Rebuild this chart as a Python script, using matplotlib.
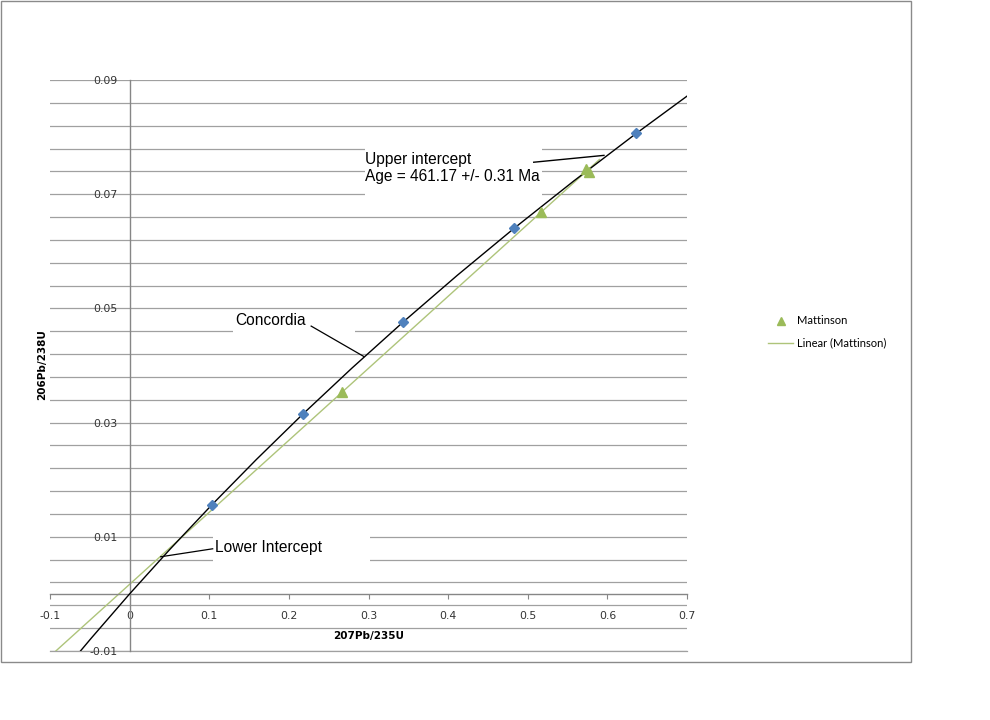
import numpy as np
import matplotlib
matplotlib.use("Agg")
import matplotlib.pyplot as plt
from matplotlib.patches import Rectangle

# ---- data ----
# concordia reference points (ages 100..500 Ma)
conc_pts_x = [0.1035, 0.2177, 0.3437, 0.4828, 0.6363]
conc_pts_y = [0.01563, 0.03151, 0.04764, 0.06402, 0.08065]

# concordia curve (ages -72 .. 540 Ma)
curve_x = [-0.06845, -0.04805, 0.0, 0.05048, 0.10350, 0.15920, 0.21771,
           0.27917, 0.34374, 0.41156, 0.48281, 0.55766, 0.63628, 0.70203]
curve_y = [-0.01111, -0.00773, 0.0, 0.00779, 0.01563, 0.02354, 0.03151,
           0.03954, 0.04764, 0.05580, 0.06402, 0.07230, 0.08065, 0.08738]

# Mattinson data
matt_x = [0.2668, 0.5165, 0.5730, 0.5770]
matt_y = [0.0353, 0.0669, 0.0744, 0.0739]

x_ticks = [-0.1, 0, 0.1, 0.2, 0.3, 0.4, 0.5, 0.6, 0.7]
x_tick_labels = ["-0.1", "0", "0.1", "0.2", "0.3", "0.4", "0.5", "0.6", "0.7"]
y_ticks = [-0.01, 0.01, 0.03, 0.05, 0.07, 0.09]
y_tick_labels = ["-0.01", "0.01", "0.03", "0.05", "0.07", "0.09"]

# ---- figure ----
fig = plt.figure(figsize=(9.9, 7.2), dpi=100)
ax = fig.add_axes([50/990, 1-651/720, 637/990, 571/720])
ax.set_xlim(-0.1, 0.7)
ax.set_ylim(-0.01, 0.09)

# outer chart border
fig.patches.append(Rectangle((1/990, 1-662/720), 910/990, 661/720,
                             transform=fig.transFigure, fill=False,
                             edgecolor="#8a8a8a", linewidth=1))

# grid
grid_c = "#a0a0a0"
ax.set_yticks(y_ticks)
ax.set_yticklabels(y_tick_labels)
ax.set_yticks(np.arange(-0.01, 0.0901, 0.004), minor=True)
ax.yaxis.grid(True, which="both", color=grid_c, linewidth=0.9, zorder=0)
ax.set_axisbelow(True)
ax.axhline(y_ticks[0], color=grid_c, linewidth=0.9, zorder=0.5, clip_on=False)
ax.set_xticks(x_ticks)
ax.set_xticklabels(x_tick_labels)

for s in ["top", "right"]:
    ax.spines[s].set_visible(False)
ax.spines["left"].set_position(("data", 0))
ax.spines["bottom"].set_position(("data", 0))
for s in ["left", "bottom"]:
    ax.spines[s].set_color("#868686")
    ax.spines[s].set_linewidth(1)

ax.tick_params(axis="y", which="both", length=0, pad=9,
               labelsize=7.8, labelcolor="#333333")
ax.tick_params(axis="x", which="major", direction="out", length=3.5,
               color="#868686", pad=9, labelsize=7.8, labelcolor="#333333")

# white text boxes (cover gridlines)
box_kw = dict(facecolor="white", edgecolor="none", zorder=1)
ax.add_patch(Rectangle((0.2953, 0.0697), 0.5184-0.2953, 0.0786-0.0697, **box_kw))
ax.add_patch(Rectangle((0.1294, 0.0431), 0.2828-0.1294, 0.0497-0.0431, **box_kw))
ax.add_patch(Rectangle((0.1043, 0.0049), 0.3016-0.1043, 0.01035-0.0049, **box_kw))

# concordia curve + points
ax.plot(curve_x, curve_y, color="black", linewidth=1, zorder=3)
ax.plot(conc_pts_x, conc_pts_y, linestyle="none", marker="D", markersize=4.6,
        color="#4f81bd", zorder=4)

# Mattinson + linear trend
slope, intercept = np.polyfit(matt_x, matt_y, 1)
tx = np.array([-0.1, 0.59])
ax.plot(tx, slope*tx + intercept, color="#aec47a", linewidth=1,
        zorder=2, label="Linear (Mattinson)")
ax.plot(matt_x, matt_y, linestyle="none", marker="^", markersize=7.5,
        color="#9bbb59", zorder=5, label="Mattinson")

# annotations
afont = dict(family="Liberation Sans", size=11.2, color="black")
ax.text(0.2953, 0.07737, "Upper intercept\nAge = 461.17 +/- 0.31 Ma",
        ha="left", va="top", linespacing=1.14, zorder=6, **afont)
ax.plot([0.5075, 0.5957], [0.0756, 0.0768], color="black", lw=1, zorder=6)

ax.text(0.1330, 0.0479, "Concordia", ha="left", va="center", zorder=6, **afont)
ax.plot([0.2280, 0.2941], [0.0469, 0.04158], color="black", lw=0.9, zorder=6)

ax.text(0.1070, 0.00820, "Lower Intercept", ha="left", va="center", zorder=6, **afont)
ax.plot([0.1043, 0.0390], [0.00790, 0.0065], color="black", lw=0.9, zorder=6)

# axis titles
ax.text(0.5, (651-636)/571, "207Pb/235U", transform=ax.transAxes,
        ha="center", va="center", fontsize=7.5, fontweight="bold",
        family="DejaVu Sans")
ax.text((42-50)/637, (651-365)/571, "206Pb/238U", transform=ax.transAxes,
        ha="center", va="center", rotation=90, fontsize=7.5,
        fontweight="bold", family="DejaVu Sans")

# legend
h, l = ax.get_legend_handles_labels()
order = [1, 0]
fig.legend([h[i] for i in order], [l[i] for i in order],
           loc="center left", bbox_to_anchor=(768/990, 1-332/720),
           bbox_transform=fig.transFigure, frameon=False, borderpad=0,
           borderaxespad=0, handlelength=2.25, handletextpad=0.35,
           labelspacing=1.0, numpoints=1, markerscale=0.85,
           prop=dict(family="Lato", size=8))

fig.savefig("out.png", dpi=100)
